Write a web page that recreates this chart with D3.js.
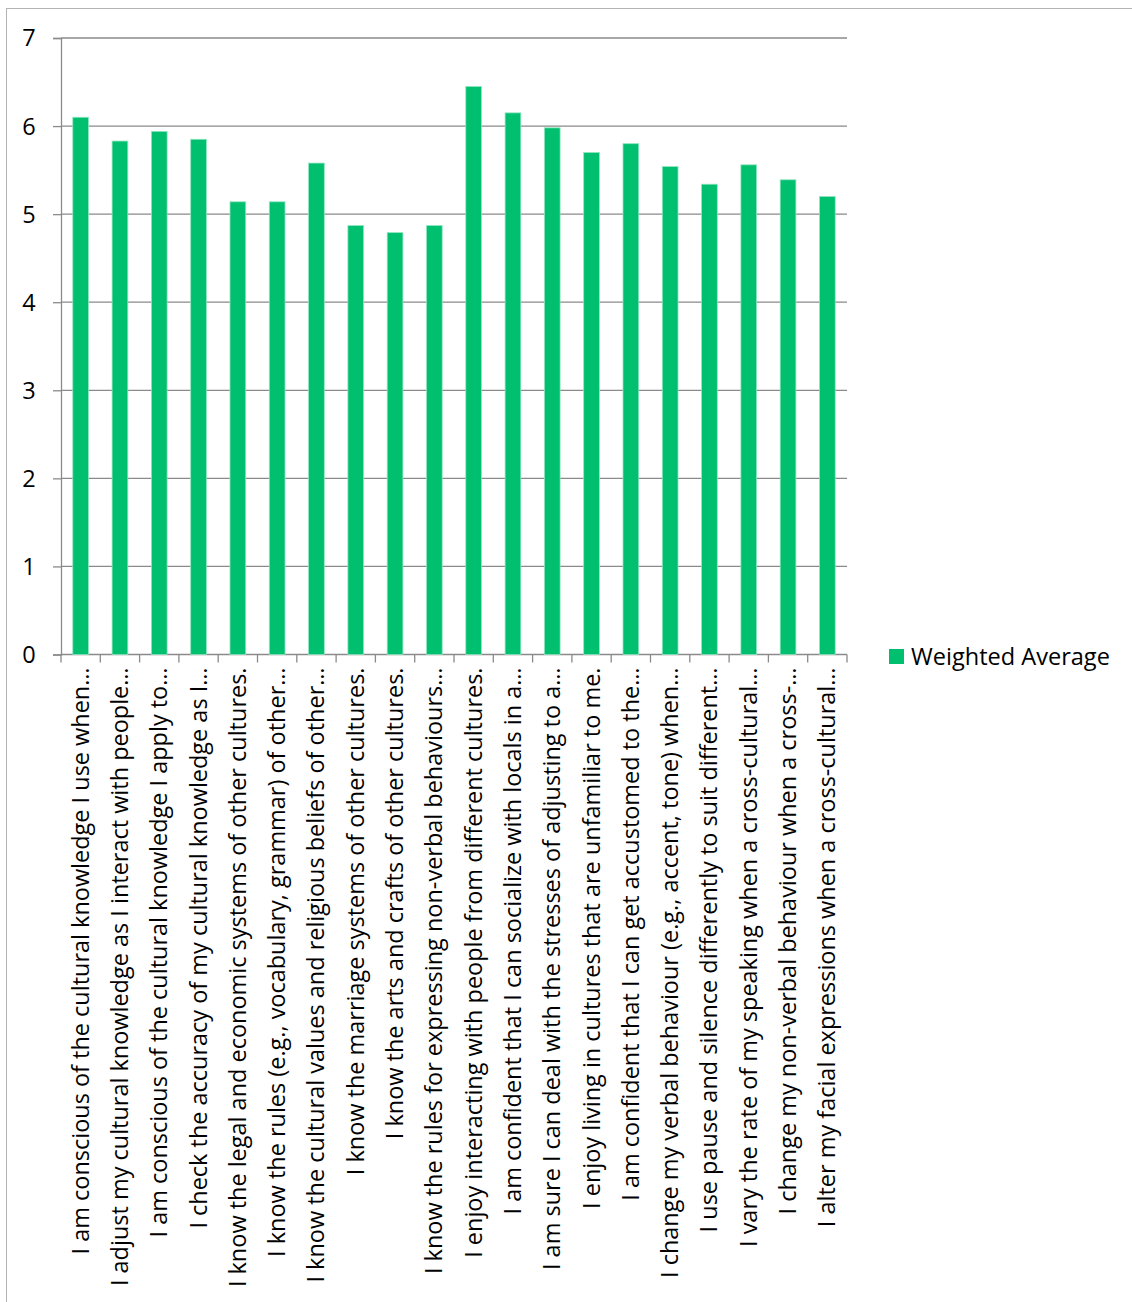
<!DOCTYPE html>
<html>
<head>
<meta charset="utf-8">
<script src="https://cdn.jsdelivr.net/npm/d3@7"></script>
<style>
  html, body { margin: 0; padding: 0; background: #fff; }
  svg { display: block; }
  text { font-family: "Open Sans", "Noto Sans", sans-serif; fill: #000; }
</style>
</head>
<body>
<script>
// Category labels (already shortened the way they appear on the axis)
const categories = [
  "I am conscious of the cultural knowledge I use when…",
  "I adjust my cultural knowledge as I interact with people…",
  "I am conscious of the cultural knowledge I apply to…",
  "I check the accuracy of my cultural knowledge as I…",
  "I know the legal and economic systems of other cultures.",
  "I know the rules (e.g., vocabulary, grammar) of other…",
  "I know the cultural values and religious beliefs of other…",
  "I know the marriage systems of other cultures.",
  "I know the arts and crafts of other cultures.",
  "I know the rules for expressing non-verbal behaviours…",
  "I enjoy interacting with people from different cultures.",
  "I am confident that I can socialize with locals in a…",
  "I am sure I can deal with the stresses of adjusting to a…",
  "I enjoy living in cultures that are unfamiliar to me.",
  "I am confident that I can get accustomed to the…",
  "I change my verbal behaviour (e.g., accent, tone) when…",
  "I use pause and silence differently to suit different…",
  "I vary the rate of my speaking when a cross-cultural…",
  "I change my non-verbal behaviour when a cross-…",
  "I alter my facial expressions when a cross-cultural…"
];

// Weighted Average series
const weightedAverage = [
  6.10, 5.83, 5.94, 5.85, 5.14, 5.14, 5.58, 4.87, 4.79, 4.87,
  6.45, 6.15, 5.98, 5.70, 5.80, 5.54, 5.34, 5.56, 5.39, 5.20
];

const yTicks = [0, 1, 2, 3, 4, 5, 6, 7];
const seriesName = "Weighted Average";

const W = 1132, H = 1302;
const plot = { left: 61, right: 847, top: 38, bottom: 654.5 };
const barColor = "#00BF6F";
const gridColor = "#8a8a8a";

const svg = d3.select("body").append("svg")
  .attr("width", W).attr("height", H);

// Outer chart frame
svg.append("rect")
  .attr("x", 6.5).attr("y", 8.5)
  .attr("width", W + 20).attr("height", H + 20)
  .attr("fill", "none").attr("stroke", "#b3b3b3").attr("stroke-width", 1);

const x = d3.scaleBand()
  .domain(d3.range(categories.length))
  .range([plot.left, plot.right])
  .paddingInner(0.6).paddingOuter(0.3);

const xBand = d3.scaleBand()
  .domain(d3.range(categories.length))
  .range([plot.left, plot.right]);

const y = d3.scaleLinear().domain([0, 7]).range([plot.bottom, plot.top]);

// Vertical axis line with small left ticks
const yAxis = d3.axisLeft(y).tickValues(yTicks).tickSize(8).tickFormat("");
const gy = svg.append("g").attr("transform", `translate(${plot.left},0)`).call(yAxis);
gy.select(".domain").attr("stroke", gridColor).attr("stroke-width", 1.3);
gy.selectAll(".tick line").attr("stroke", gridColor).attr("stroke-width", 1.3);

// Horizontal gridlines
svg.append("g").selectAll("line")
  .data(yTicks).join("line")
  .attr("x1", plot.left).attr("x2", plot.right)
  .attr("y1", d => y(d)).attr("y2", d => y(d))
  .attr("stroke", gridColor).attr("stroke-width", 1.3);

// Y tick labels
svg.append("g").selectAll("text")
  .data(yTicks).join("text")
  .attr("x", 29).attr("y", d => y(d))
  .attr("dy", "0.36em")
  .attr("text-anchor", "middle")
  .style("font-size", "23.5px")
  .text(d => d);

// Bars
svg.append("g").selectAll("rect")
  .data(weightedAverage).join("rect")
  .attr("x", (d, i) => x(i))
  .attr("width", x.bandwidth())
  .attr("y", d => y(d))
  .attr("height", d => y(0) - y(d))
  .attr("fill", barColor)
  .attr("stroke", "#8fe6c0").attr("stroke-width", 0.8);

// Category axis: ticks at band boundaries
const bounds = d3.range(categories.length + 1).map(i =>
  i < categories.length ? xBand(i) : xBand(categories.length - 1) + xBand.bandwidth());
svg.append("g").selectAll("line")
  .data(bounds).join("line")
  .attr("x1", d => d).attr("x2", d => d)
  .attr("y1", plot.bottom).attr("y2", plot.bottom + 8)
  .attr("stroke", gridColor).attr("stroke-width", 1.3);

// Rotated category labels
const labels = svg.append("g").selectAll("text")
  .data(categories).join("text")
  .attr("transform", (d, i) =>
    `translate(${xBand(i) + xBand.bandwidth() / 2 + 8},${plot.bottom + 13}) rotate(-90)`)
  .attr("text-anchor", "end")
  .style("font-size", "20px")
  .text(d => d);

// Fit label size so the longest line spans the measured length
const probe = labels.filter((d, i) => i === 4).node();
const len = probe.getComputedTextLength();
const fs = Math.max(14, Math.min(26, 20 * 620 / len));
labels.style("font-size", fs + "px");

// Legend
const lg = svg.append("g").attr("transform", "translate(889,649)");
lg.append("rect").attr("width", 15).attr("height", 15).attr("fill", barColor);
const lt = lg.append("text").attr("x", 22).attr("y", 7.5).attr("dy", "0.36em")
  .style("font-size", "22px").text(seriesName);
const lw = lt.node().getComputedTextLength();
lt.style("font-size", Math.min(26, 22 * 199 / lw) + "px");
</script>
</body>
</html>
